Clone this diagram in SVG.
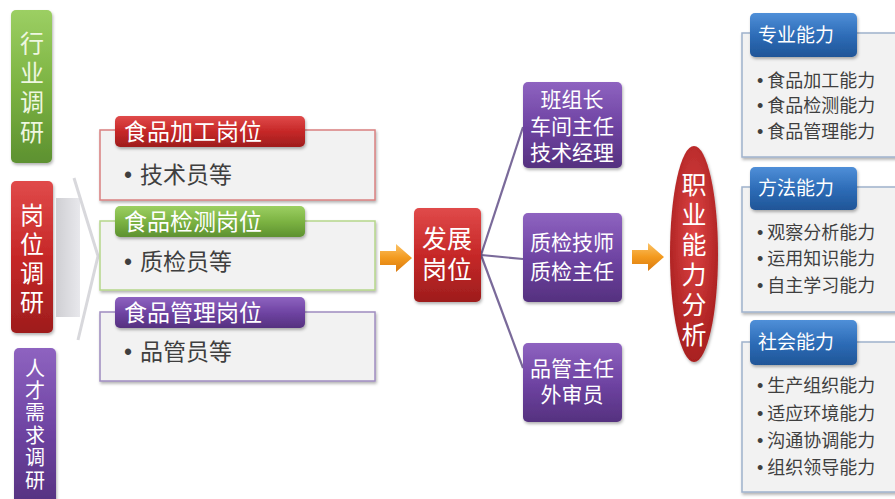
<svg xmlns="http://www.w3.org/2000/svg" width="895" height="499" viewBox="0 0 895 499">
<defs>
<linearGradient id="gGreen" x1="0" y1="0" x2="0" y2="1"><stop offset="0" stop-color="#9ccf63"/><stop offset="0.5" stop-color="#7cb342"/><stop offset="1" stop-color="#5d9130"/></linearGradient>
<linearGradient id="gRed" x1="0" y1="0" x2="0" y2="1"><stop offset="0" stop-color="#e04a4a"/><stop offset="0.5" stop-color="#c62828"/><stop offset="1" stop-color="#9e1d1d"/></linearGradient>
<linearGradient id="gPurple" x1="0" y1="0" x2="0" y2="1"><stop offset="0" stop-color="#8e63c0"/><stop offset="0.5" stop-color="#6f44a3"/><stop offset="1" stop-color="#55317f"/></linearGradient>
<linearGradient id="gBlue" x1="0" y1="0" x2="0" y2="1"><stop offset="0" stop-color="#4f8fd8"/><stop offset="0.5" stop-color="#2e6db8"/><stop offset="1" stop-color="#1f5597"/></linearGradient>
<linearGradient id="gOrange" x1="0" y1="0" x2="0" y2="1"><stop offset="0" stop-color="#fbc266"/><stop offset="0.5" stop-color="#f39a1e"/><stop offset="1" stop-color="#d97a10"/></linearGradient>
<radialGradient id="gEll" cx="0.5" cy="0.4" r="0.6"><stop offset="0" stop-color="#e04545"/><stop offset="1" stop-color="#a81f1f"/></radialGradient>
<linearGradient id="gGray" x1="0" y1="0" x2="1" y2="0"><stop offset="0" stop-color="#cfcfd3"/><stop offset="1" stop-color="#e8e8ec"/></linearGradient>
<filter id="sh" x="-20%" y="-20%" width="140%" height="140%"><feDropShadow dx="1" dy="2" stdDeviation="1.5" flood-color="#000" flood-opacity="0.3"/></filter>
</defs>
<style>
.cjk{font-family:"Noto Sans CJK SC","Noto Sans CJK TC",sans-serif}
.ml{font-family:"Liberation Sans","Noto Sans CJK SC",sans-serif}
.vt{writing-mode:vertical-rl;text-orientation:upright}
.wt{fill:#ffffff}
.body{fill:#3f3f3f}
.bl{font-family:"Liberation Sans",sans-serif}
.panel{fill:#f2f2f2;stroke-width:1.5}
.conn{stroke:#7a6a9a;stroke-width:2.2;fill:none}
</style>
<rect width="895" height="499" fill="#ffffff"/>

<g id="n-hangye">
<rect x="11" y="10" width="41" height="153" rx="5" fill="url(#gGreen)" filter="url(#sh)"/>
<text x="32" y="31" class="cjk vt" font-size="24" letter-spacing="5.5" fill="#eef7e0">行业调研</text>
</g>

<g id="n-gangwei">
<rect x="11" y="181" width="42" height="152" rx="5" fill="url(#gRed)" filter="url(#sh)"/>
<text x="32" y="203" class="cjk vt wt" font-size="24" letter-spacing="5">岗位调研</text>
</g>

<g id="n-rencai">
<rect x="14" y="348" width="42" height="160" rx="5" fill="url(#gPurple)" filter="url(#sh)"/>
<text x="35" y="358" class="cjk vt wt" font-size="20" letter-spacing="2.4">人才需求调研</text>
</g>

<g id="n-bracket">
<rect x="56" y="198" width="24" height="119" fill="url(#gGray)"/>
<path d="M74,178 L98,256 L78,340" fill="none" stroke="#d8d8dc" stroke-width="3"/>
</g>

<g id="n-jiagong">
<rect x="100" y="130" width="275" height="70" class="panel" stroke="#d98080" filter="url(#sh)"/>
<rect x="115" y="116" width="190" height="31" rx="5" fill="url(#gRed)" filter="url(#sh)"/>
<text x="124" y="140" class="cjk wt" font-size="23">食品加工岗位</text>
<text x="124" y="183" class="cjk body" font-size="23"><tspan class="bl">•</tspan><tspan dx="8">技术员等</tspan></text>
</g>

<g id="n-jiance">
<rect x="100" y="221" width="275" height="69" class="panel" stroke="#b5d68a" filter="url(#sh)"/>
<rect x="115" y="206" width="190" height="31" rx="5" fill="url(#gGreen)" filter="url(#sh)"/>
<text x="124" y="230" class="cjk wt" font-size="23">食品检测岗位</text>
<text x="124" y="270" class="cjk body" font-size="23"><tspan class="bl">•</tspan><tspan dx="8">质检员等</tspan></text>
</g>

<g id="n-guanli">
<rect x="100" y="312" width="275" height="69" class="panel" stroke="#9f8cc0" filter="url(#sh)"/>
<rect x="115" y="297" width="190" height="31" rx="5" fill="url(#gPurple)" filter="url(#sh)"/>
<text x="124" y="321" class="cjk wt" font-size="23">食品管理岗位</text>
<text x="124" y="360" class="cjk body" font-size="23"><tspan class="bl">•</tspan><tspan dx="8">品管员等</tspan></text>
</g>

<g id="connectors">
<path d="M380,251 L396,251 L396,244 L412,258 L396,272 L396,265 L380,265 Z" fill="url(#gOrange)"/>
<path d="M632,250 L648,250 L648,243 L664,257 L648,271 L648,264 L632,264 Z" fill="url(#gOrange)"/>
<path class="conn" d="M481,255 L523,127"/>
<path class="conn" d="M481,255 L523,259"/>
<path class="conn" d="M481,255 L523,368"/>
</g>

<g id="n-fazhan">
<rect x="414" y="208" width="67" height="94" rx="5" fill="url(#gRed)" filter="url(#sh)"/>
<text class="ml wt" font-size="25" text-anchor="middle"><tspan x="447" y="248">发展</tspan><tspan x="447" y="279">岗位</tspan></text>
</g>

<g id="n-pos1">
<rect x="523" y="82" width="99" height="86" rx="5" fill="url(#gPurple)" filter="url(#sh)"/>
<text class="ml wt" font-size="21" text-anchor="middle"><tspan x="572" y="107">班组长</tspan><tspan x="572" y="134">车间主任</tspan><tspan x="572" y="160">技术经理</tspan></text>
</g>

<g id="n-pos2">
<rect x="523" y="213" width="99" height="89" rx="5" fill="url(#gPurple)" filter="url(#sh)"/>
<text class="ml wt" font-size="21" text-anchor="middle"><tspan x="572" y="250">质检技师</tspan><tspan x="572" y="279">质检主任</tspan></text>
</g>

<g id="n-pos3">
<rect x="523" y="343" width="99" height="79" rx="5" fill="url(#gPurple)" filter="url(#sh)"/>
<text class="ml wt" font-size="21" text-anchor="middle"><tspan x="572" y="376">品管主任</tspan><tspan x="572" y="402">外审员</tspan></text>
</g>

<g id="n-zhiye">
<ellipse cx="694" cy="254" rx="24" ry="108" fill="url(#gEll)" filter="url(#sh)"/>
<text x="694" y="172" class="cjk vt wt" font-size="25" letter-spacing="5">职业能力分析</text>
</g>

<g id="n-zhuanye">
<rect x="742" y="33" width="160" height="124" class="panel" stroke="#9fb2cc" filter="url(#sh)"/>
<rect x="750" y="13" width="107" height="44" rx="5" fill="url(#gBlue)" filter="url(#sh)"/>
<text x="758" y="42" class="cjk wt" font-size="19">专业能力</text>
<g class="cjk body" font-size="18">
<text x="757" y="87"><tspan class="bl">•</tspan><tspan dx="4">食品加工能力</tspan></text><text x="757" y="112"><tspan class="bl">•</tspan><tspan dx="4">食品检测能力</tspan></text><text x="757" y="138"><tspan class="bl">•</tspan><tspan dx="4">食品管理能力</tspan></text>
</g>
</g>

<g id="n-fangfa">
<rect x="742" y="187" width="160" height="125" class="panel" stroke="#9fb2cc" filter="url(#sh)"/>
<rect x="750" y="167" width="107" height="43" rx="5" fill="url(#gBlue)" filter="url(#sh)"/>
<text x="758" y="195" class="cjk wt" font-size="19">方法能力</text>
<g class="cjk body" font-size="18">
<text x="757" y="239"><tspan class="bl">•</tspan><tspan dx="4">观察分析能力</tspan></text><text x="757" y="265"><tspan class="bl">•</tspan><tspan dx="4">运用知识能力</tspan></text><text x="757" y="292"><tspan class="bl">•</tspan><tspan dx="4">自主学习能力</tspan></text>
</g>
</g>

<g id="n-shehui">
<rect x="742" y="342" width="160" height="150" class="panel" stroke="#9fb2cc" filter="url(#sh)"/>
<rect x="750" y="320" width="107" height="45" rx="5" fill="url(#gBlue)" filter="url(#sh)"/>
<text x="758" y="349" class="cjk wt" font-size="19">社会能力</text>
<g class="cjk body" font-size="18">
<text x="757" y="392"><tspan class="bl">•</tspan><tspan dx="4">生产组织能力</tspan></text><text x="757" y="420"><tspan class="bl">•</tspan><tspan dx="4">适应环境能力</tspan></text><text x="757" y="447"><tspan class="bl">•</tspan><tspan dx="4">沟通协调能力</tspan></text><text x="757" y="474"><tspan class="bl">•</tspan><tspan dx="4">组织领导能力</tspan></text>
</g>
</g>
</svg>
